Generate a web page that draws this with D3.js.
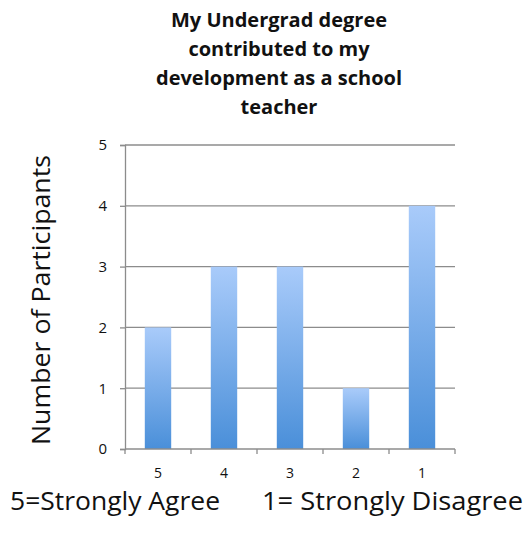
<!DOCTYPE html>
<html>
<head>
<meta charset="utf-8">
<script src="https://cdnjs.cloudflare.com/ajax/libs/d3/7.8.5/d3.min.js"></script>
<style>
  body { margin: 0; background: #fff; }
  text { font-family: "Open Sans", "Noto Sans", sans-serif; fill: #111; }
</style>
</head>
<body>
<script>
// chart data
const categories = ["5", "4", "3", "2", "1"];
const participants = [2, 3, 3, 1, 4];
const yTicks = [0, 1, 2, 3, 4, 5];
const titleLines = ["My Undergrad degree", "contributed to my", "development as a school", "teacher"];

const width = 531, height = 538;
const margin = {left: 125, right: 76, top: 145, bottom: 89};

const svg = d3.select("body").append("svg")
  .attr("width", width)
  .attr("height", height);

const defs = svg.append("defs");
const grad = defs.append("linearGradient")
  .attr("id", "barGrad")
  .attr("x1", 0).attr("y1", 0).attr("x2", 0).attr("y2", 1);
grad.append("stop").attr("offset", "0%").attr("stop-color", "#a9cbfa");
grad.append("stop").attr("offset", "100%").attr("stop-color", "#4a8fd9");

const x = d3.scaleBand()
  .domain(categories)
  .range([margin.left, width - margin.right])
  .paddingInner(0.6)
  .paddingOuter(0.3);

const y = d3.scaleLinear()
  .domain([0, 5])
  .range([height - margin.bottom, margin.top]);

// gridlines
svg.append("g")
  .selectAll("line")
  .data(yTicks.filter(d => d > 0))
  .enter().append("line")
  .attr("x1", margin.left)
  .attr("x2", width - margin.right)
  .attr("y1", d => y(d))
  .attr("y2", d => y(d))
  .attr("stroke", "#8c8c8c")
  .attr("stroke-width", 1.3);

// bars
svg.append("g")
  .selectAll("rect")
  .data(participants)
  .enter().append("rect")
  .attr("x", (d, i) => x(categories[i]))
  .attr("y", d => y(d))
  .attr("width", x.bandwidth())
  .attr("height", d => y(0) - y(d))
  .attr("fill", "url(#barGrad)");

// y axis
const yAxis = svg.append("g")
  .attr("transform", `translate(${margin.left},0)`)
  .call(d3.axisLeft(y).tickValues(yTicks).tickSize(5).tickFormat(d3.format("d")));
yAxis.attr("font-size", null).attr("font-family", null);
yAxis.selectAll("line, path").attr("stroke", "#8c8c8c").attr("stroke-width", 1.3);
yAxis.selectAll("text")
  .attr("x", -18)
  .style("font-size", "15px")
  .attr("fill", "#111");

// x axis
const xTickScale = d3.scaleLinear().domain([0, categories.length]).range([margin.left, width - margin.right]);
const xAxis = svg.append("g")
  .attr("transform", `translate(0,${y(0)})`);
xAxis.append("line")
  .attr("x1", margin.left).attr("x2", width - margin.right)
  .attr("stroke", "#8c8c8c").attr("stroke-width", 1.3);
xAxis.selectAll(".tk")
  .data(d3.range(categories.length + 1))
  .enter().append("line")
  .attr("class", "tk")
  .attr("x1", d => xTickScale(d)).attr("x2", d => xTickScale(d))
  .attr("y1", 0).attr("y2", 5)
  .attr("stroke", "#8c8c8c").attr("stroke-width", 1.3);
xAxis.selectAll("text")
  .data(categories)
  .enter().append("text")
  .attr("x", d => x(d) + x.bandwidth() / 2)
  .attr("y", 29)
  .attr("text-anchor", "middle")
  .style("font-size", "14px")
  .text(d => d);

// title
svg.append("g")
  .selectAll("text")
  .data(titleLines)
  .enter().append("text")
  .attr("x", 279)
  .attr("y", (d, i) => 27 + i * 29)
  .attr("text-anchor", "middle")
  .style("font-size", "20px")
  .style("font-weight", "bold")
  .text(d => d);

// y label
svg.append("text")
  .attr("transform", `translate(50,${(y(0) + y(5)) / 2 + 3}) rotate(-90)`)
  .attr("text-anchor", "middle")
  .attr("textLength", 290)
  .attr("lengthAdjust", "spacingAndGlyphs")
  .style("font-size", "25px")
  .text("Number of Participants");

// scale note
svg.append("text")
  .attr("x", 10).attr("y", 510)
  .attr("textLength", 210)
  .attr("lengthAdjust", "spacingAndGlyphs")
  .style("font-size", "25px")
  .text("5=Strongly Agree");
svg.append("text")
  .attr("x", 262).attr("y", 510)
  .attr("textLength", 261)
  .attr("lengthAdjust", "spacingAndGlyphs")
  .style("font-size", "25px")
  .text("1= Strongly Disagree");
</script>
</body>
</html>
